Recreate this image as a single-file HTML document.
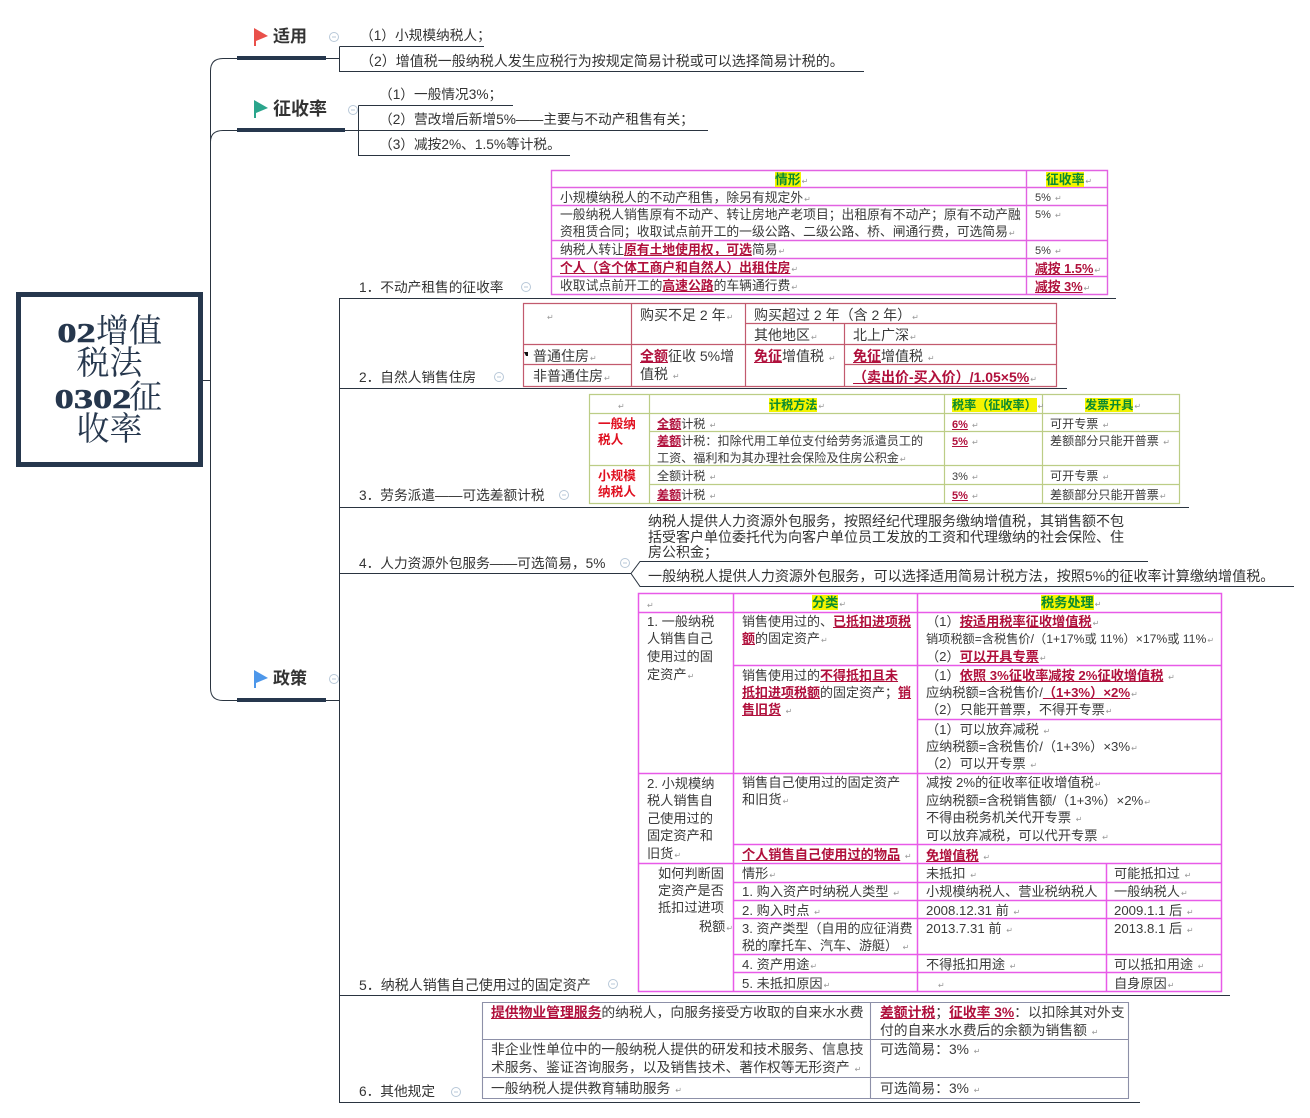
<!DOCTYPE html>
<html lang="zh"><head><meta charset="utf-8"><title>02增值税法 0302征收率</title>
<style>
html,body{margin:0;padding:0;background:#fff}
body{position:relative;width:1310px;height:1118px;overflow:hidden;font-family:"Liberation Sans","Noto Sans CJK SC",sans-serif;color:#3a3a3a}
svg{position:absolute;left:0;top:0}
.t{position:absolute;white-space:nowrap;line-height:18px;height:18px;font-size:13.2px;margin-top:1px}
.a{font-size:12.8px}.c{font-size:12.1px}.b{font-size:14px}.l{font-size:13.7px;color:#333}.m{font-size:14px;color:#333}.f{font-size:13.8px}.g{font-size:13px}
.h{font-size:17px;font-weight:bold;color:#333}
.r{color:#b0103c;font-weight:bold;text-decoration:underline}
.e{color:#e01020;font-weight:bold}
.y{background:#f4f400;color:#0a8a30;font-weight:bold}
i{font-style:normal;font-size:8px;color:#999;font-family:"DejaVu Sans",sans-serif;margin-left:1px}
.root{position:absolute;left:16px;top:292px;width:177px;height:165px;border:5px solid #26374d;background:#fff}
.rt{position:absolute;left:0;width:177px;text-align:center;font-family:"Liberation Serif","Noto Serif CJK SC",serif;font-size:33px;line-height:34px;color:#26374d;white-space:nowrap}
.d{display:inline-block;font-weight:bold;font-size:27px;transform:scaleX(1.42);margin:0 6px;-webkit-text-stroke:.5px #26374d}
.d2{margin:0 9px}
</style></head><body>
<svg width="1310" height="1118" viewBox="0 0 1310 1118" fill="none">
<g stroke="#2a3440" stroke-width="1">
<path d="M203 380.5H210.5M237 58.5H223Q210.5 58.5 210.5 71V688Q210.5 700.5 223 700.5H237M210.5 142Q210.5 130.5 223 130.5H237"/>
<path d="M325 58.5H339.5M339.5 46.5H484M339.5 46.5V71.5H864"/>
<path d="M345 130.5H708M358.5 105.5H513M358.5 105.5V155.5H570"/>
<path d="M326 700.5H339.5M339.5 298.5V1102.5M339 298.5H1116M339 388.5H1067M339 507.5H1189M339 573.5H631L640 561.5H1148M631 573.5L640 586.5H1294M339 995.5H1230M339 1102.5H1140"/>
</g>
<g fill="#26374d"><rect x="237" y="56" width="89" height="4"/><rect x="237" y="128" width="108" height="4"/><rect x="237" y="698" width="89" height="4"/></g>
<path d="M254 28L268 36L256 41V46H254Z" fill="#e9504a"/>
<path d="M254 100L268 108L256 113V118H254Z" fill="#2aa58c"/>
<path d="M254 670L268 678L256 683V688H254Z" fill="#4d97ea"/>
<g stroke="#b8c8d8" stroke-width="1" fill="#fff">
<circle cx="334" cy="37" r="4.5"/><circle cx="353" cy="110" r="4.5"/><circle cx="526" cy="287" r="4.5"/><circle cx="499" cy="377" r="4.5"/><circle cx="564" cy="495" r="4.5"/><circle cx="625" cy="563" r="4.5"/><circle cx="334" cy="679" r="4.5"/><circle cx="613" cy="984" r="4.5"/><circle cx="456" cy="1092" r="4.5"/>
<path d="M332 37h4M351 110h4M524 287h4M497 377h4M562 495h4M623 563h4M332 679h4M611 984h4M454 1092h4"/>
</g>
<g stroke="#e262e2" stroke-width="1.4">
<path d="M551.5 170.5H1107.5V294.5H551.5ZM551.5 187.5H1107.5M551.5 205.5H1107.5M551.5 240.5H1107.5M551.5 258.5H1107.5M551.5 276.5H1107.5M1026.5 170.5V294.5"/>
</g>
<g stroke="#c25a6e" stroke-width="1.2">
<path d="M523.5 303.5H1056.5V386.5H523.5ZM745 323.5H1056.5M745 323.5M523.5 344.5H1056.5M523.5 364.5H631M844 364.5H1056.5M631.5 303.5V386.5M745.5 303.5V386.5M844.5 323.5V386.5"/>
</g>
<g stroke="#bccd86" stroke-width="1.2">
<path d="M589.5 394.5H1179.5V503.5H589.5ZM589.5 413.5H1179.5M649 431.5H1179.5M589.5 465.5H1179.5M649 484.5H1179.5M649.5 394.5V503.5M944.5 394.5V503.5M1042.5 394.5V503.5"/>
</g>
<g stroke="#e85ae8" stroke-width="1.5">
<path d="M638.5 593.5H1221.5V991.5H638.5ZM638.5 612.5H1221.5M733 665.5H1221.5M917 719.5H1221.5M638.5 773.5H1221.5M733 844.5H1221.5M638.5 863.5H1221.5M733 882.5H1221.5M733 900.5H1221.5M733 918.5H1221.5M733 954.5H1221.5M733 972.5H1221.5M733.5 593.5V991.5M917.5 593.5V991.5M1106.5 863.5V991.5"/>
</g>
<g stroke="#8d90a8" stroke-width="1.1">
<path d="M482.5 1002.5H1128.5V1098.5H482.5ZM482.5 1039.5H1128.5M482.5 1077.5H1128.5M870.5 1002.5V1098.5"/>
</g>
<path d="M524 352h4v4h-2z" fill="#111"/>
</svg>

<div class="root">
<div class="rt" style="top:18px"><span class="d">02</span>增值</div>
<div class="rt" style="top:50px">税法</div>
<div class="rt" style="top:84px"><span class="d d2">0302</span>征</div>
<div class="rt" style="top:116px">收率</div>
</div>

<div class="t h" style="left:273px;top:27px">适用</div>
<div class="t h" style="left:273px;top:99px;font-size:18px">征收率</div>
<div class="t h" style="left:273px;top:669px">政策</div>

<div class="t l" style="left:360px;top:26px">（1）小规模纳税人；</div>
<div class="t m" style="left:360px;top:51px">（2）增值税一般纳税人发生应税行为按规定简易计税或可以选择简易计税的。</div>
<div class="t l" style="left:379px;top:85px">（1）一般情况3%；</div>
<div class="t l" style="left:379px;top:110px">（2）营改增后新增5%——主要与不动产租售有关；</div>
<div class="t l" style="left:379px;top:135px">（3）减按2%、1.5%等计税。</div>

<div class="t l" style="left:359px;top:278px">1．不动产租售的征收率</div>
<div class="t l" style="left:359px;top:368px">2．自然人销售住房</div>
<div class="t l" style="left:359px;top:486px">3．劳务派遣——可选差额计税</div>
<div class="t l" style="left:359px;top:554px">4．人力资源外包服务——可选简易，5%</div>
<div class="t m" style="left:359px;top:975px">5．纳税人销售自己使用过的固定资产</div>
<div class="t l" style="left:359px;top:1082px">6．其他规定</div>

<div class="t m" style="left:648px;top:511px">纳税人提供人力资源外包服务，按照经纪代理服务缴纳增值税，其销售额不包</div>
<div class="t m" style="left:648px;top:527px">括受客户单位委托代为向客户单位员工发放的工资和代理缴纳的社会保险、住</div>
<div class="t m" style="left:648px;top:542px">房公积金；</div>
<div class="t m" style="left:648px;top:566px;font-size:14.1px">一般纳税人提供人力资源外包服务，可以选择适用简易计税方法，按照5%的征收率计算缴纳增值税。</div>

<!-- table 1 -->
<div class="t a" style="left:775px;top:170px"><span class="y">情形</span><i>↵</i></div>
<div class="t a" style="left:1046px;top:170px"><span class="y">征收率</span><i>↵</i></div>
<div class="t a" style="left:560px;top:188px">小规模纳税人的不动产租售，除另有规定外<i>↵</i></div>
<div class="t a" style="left:1035px;top:188px;font-size:11px">5% <i>↵</i></div>
<div class="t a" style="left:560px;top:205px">一般纳税人销售原有不动产、转让房地产老项目；出租原有不动产；原有不动产融</div>
<div class="t a" style="left:1035px;top:205px;font-size:11px">5% <i>↵</i></div>
<div class="t a" style="left:560px;top:222px">资租赁合同；收取试点前开工的一级公路、二级公路、桥、闸通行费，可选简易<i>↵</i></div>
<div class="t a" style="left:560px;top:240px">纳税人转让<span class="r">原有土地使用权，可选</span>简易<i>↵</i></div>
<div class="t a" style="left:1035px;top:241px;font-size:11px">5% <i>↵</i></div>
<div class="t a" style="left:560px;top:258px"><span class="r">个人（含个体工商户和自然人）出租住房</span><i>↵</i></div>
<div class="t a" style="left:1035px;top:259px"><span class="r">减按 1.5%</span><i>↵</i></div>
<div class="t a" style="left:560px;top:276px">收取试点前开工的<span class="r">高速公路</span>的车辆通行费<i>↵</i></div>
<div class="t a" style="left:1035px;top:277px"><span class="r">减按 3%</span><i>↵</i></div>

<!-- table 2 -->
<div class="t b" style="left:546px;top:305px"><i>↵</i></div>
<div class="t b" style="left:640px;top:305px">购买不足 2 年<i>↵</i></div>
<div class="t b" style="left:754px;top:305px">购买超过 2 年（含 2 年）<i>↵</i></div>
<div class="t b" style="left:754px;top:325px">其他地区<i>↵</i></div>
<div class="t b" style="left:853px;top:325px">北上广深<i>↵</i></div>
<div class="t b" style="left:533px;top:346px">普通住房<i>↵</i></div>
<div class="t b" style="left:533px;top:366px">非普通住房<i>↵</i></div>
<div class="t b" style="left:640px;top:346px"><span class="r">全额</span>征收 5%增</div>
<div class="t b" style="left:640px;top:364px">值税 <i>↵</i></div>
<div class="t b" style="left:754px;top:346px"><span class="r">免征</span>增值税 <i>↵</i></div>
<div class="t b" style="left:853px;top:346px"><span class="r">免征</span>增值税 <i>↵</i></div>
<div class="t b" style="left:853px;top:367px"><span class="r">（卖出价-买入价）/1.05×5%</span><i>↵</i></div>

<!-- table 3 -->
<div class="t c" style="left:617px;top:395px"><i>↵</i></div>
<div class="t c" style="left:769px;top:395px"><span class="y">计税方法</span><i>↵</i></div>
<div class="t c" style="left:952px;top:395px"><span class="y">税率（征收率）</span><i>↵</i></div>
<div class="t c" style="left:1085px;top:395px"><span class="y">发票开具</span><i>↵</i></div>
<div class="t c e" style="left:598px;top:414px;font-size:12.6px">一般纳</div>
<div class="t c e" style="left:598px;top:430px;font-size:12.6px">税人</div>
<div class="t c e" style="left:598px;top:466px;font-size:12.6px">小规模</div>
<div class="t c e" style="left:598px;top:482px;font-size:12.6px">纳税人</div>
<div class="t c" style="left:657px;top:414px"><span class="r">全额</span>计税 <i>↵</i></div>
<div class="t c" style="left:952px;top:415px;font-size:11px"><span class="r">6%</span> <i>↵</i></div>
<div class="t c" style="left:1050px;top:414px">可开专票 <i>↵</i></div>
<div class="t c" style="left:657px;top:431px"><span class="r">差额</span>计税：扣除代用工单位支付给劳务派遣员工的</div>
<div class="t c" style="left:657px;top:448px">工资、福利和为其办理社会保险及住房公积金<i>↵</i></div>
<div class="t c" style="left:952px;top:432px;font-size:11px"><span class="r">5%</span> <i>↵</i></div>
<div class="t c" style="left:1050px;top:431px">差额部分只能开普票 <i>↵</i></div>
<div class="t c" style="left:657px;top:466px">全额计税 <i>↵</i></div>
<div class="t c" style="left:952px;top:467px;font-size:11px">3% <i>↵</i></div>
<div class="t c" style="left:1050px;top:466px">可开专票 <i>↵</i></div>
<div class="t c" style="left:657px;top:485px"><span class="r">差额</span>计税 <i>↵</i></div>
<div class="t c" style="left:952px;top:486px;font-size:11px"><span class="r">5%</span> <i>↵</i></div>
<div class="t c" style="left:1050px;top:485px">差额部分只能开普票<i>↵</i></div>

<!-- table 5 -->
<div class="t" style="left:646px;top:594px"><i>↵</i></div>
<div class="t" style="left:812px;top:593px"><span class="y">分类</span><i>↵</i></div>
<div class="t" style="left:1041px;top:593px"><span class="y">税务处理</span><i>↵</i></div>
<div class="t" style="left:647px;top:612px">1. 一般纳税</div>
<div class="t" style="left:647px;top:629px">人销售自己</div>
<div class="t" style="left:647px;top:647px">使用过的固</div>
<div class="t" style="left:647px;top:665px">定资产<i>↵</i></div>
<div class="t g" style="left:742px;top:612px">销售使用过的、<span class="r">已抵扣进项税</span></div>
<div class="t g" style="left:742px;top:629px"><span class="r">额</span>的固定资产<i>↵</i></div>
<div class="t" style="left:926px;top:612px">（1）<span class="r">按适用税率征收增值税</span><i>↵</i></div>
<div class="t" style="left:926px;top:629px;font-size:12.2px">销项税额=含税售价/（1+17%或 11%）×17%或 11%<i>↵</i></div>
<div class="t" style="left:926px;top:647px">（2）<span class="r">可以开具专票</span><i>↵</i></div>
<div class="t g" style="left:742px;top:666px">销售使用过的<span class="r">不得抵扣且未</span></div>
<div class="t g" style="left:742px;top:683px"><span class="r">抵扣进项税额</span>的固定资产；<span class="r">销</span></div>
<div class="t g" style="left:742px;top:700px"><span class="r">售旧货</span> <i>↵</i></div>
<div class="t" style="left:926px;top:666px">（1）<span class="r">依照 3%征收率减按 2%征收增值税</span> <i>↵</i></div>
<div class="t" style="left:926px;top:683px">应纳税额=含税售价/<span class="r">（1+3%）×2%</span><i>↵</i></div>
<div class="t" style="left:926px;top:700px">（2）只能开普票，不得开专票<i>↵</i></div>
<div class="t" style="left:926px;top:720px">（1）可以放弃减税 <i>↵</i></div>
<div class="t" style="left:926px;top:737px">应纳税额=含税售价/（1+3%）×3%<i>↵</i></div>
<div class="t" style="left:926px;top:754px">（2）可以开专票 <i>↵</i></div>
<div class="t" style="left:647px;top:774px">2. 小规模纳</div>
<div class="t" style="left:647px;top:791px">税人销售自</div>
<div class="t" style="left:647px;top:809px">己使用过的</div>
<div class="t" style="left:647px;top:826px">固定资产和</div>
<div class="t" style="left:647px;top:844px">旧货<i>↵</i></div>
<div class="t" style="left:742px;top:773px">销售自己使用过的固定资产</div>
<div class="t" style="left:742px;top:790px">和旧货<i>↵</i></div>
<div class="t" style="left:742px;top:845px"><span class="r">个人销售自己使用过的物品</span> <i>↵</i></div>
<div class="t" style="left:926px;top:773px">减按 2%的征收率征收增值税<i>↵</i></div>
<div class="t" style="left:926px;top:791px">应纳税额=含税销售额/（1+3%）×2%<i>↵</i></div>
<div class="t" style="left:926px;top:808px">不得由税务机关代开专票 <i>↵</i></div>
<div class="t" style="left:926px;top:826px">可以放弃减税，可以代开专票 <i>↵</i></div>
<div class="t" style="left:926px;top:846px"><span class="r">免增值税</span> <i>↵</i></div>
<div class="t" style="left:658px;top:864px">如何判断固</div>
<div class="t" style="left:658px;top:881px">定资产是否</div>
<div class="t" style="left:658px;top:898px">抵扣过进项</div>
<div class="t" style="left:699px;top:917px">税额<i>↵</i></div>
<div class="t" style="left:742px;top:864px">情形<i>↵</i></div>
<div class="t" style="left:926px;top:864px">未抵扣 <i>↵</i></div>
<div class="t" style="left:1114px;top:864px">可能抵扣过 <i>↵</i></div>
<div class="t" style="left:742px;top:882px">1. 购入资产时纳税人类型 <i>↵</i></div>
<div class="t" style="left:926px;top:882px">小规模纳税人、营业税纳税人</div>
<div class="t" style="left:1114px;top:882px">一般纳税人<i>↵</i></div>
<div class="t" style="left:742px;top:901px">2. 购入时点 <i>↵</i></div>
<div class="t" style="left:926px;top:901px">2008.12.31 前 <i>↵</i></div>
<div class="t" style="left:1114px;top:901px">2009.1.1 后 <i>↵</i></div>
<div class="t g" style="left:742px;top:919px">3. 资产类型（自用的应征消费</div>
<div class="t g" style="left:742px;top:936px">税的摩托车、汽车、游艇） <i>↵</i></div>
<div class="t" style="left:926px;top:919px">2013.7.31 前 <i>↵</i></div>
<div class="t" style="left:1114px;top:919px">2013.8.1 后 <i>↵</i></div>
<div class="t" style="left:742px;top:955px">4. 资产用途<i>↵</i></div>
<div class="t" style="left:926px;top:955px">不得抵扣用途 <i>↵</i></div>
<div class="t" style="left:1114px;top:955px">可以抵扣用途 <i>↵</i></div>
<div class="t" style="left:742px;top:974px">5. 未抵扣原因<i>↵</i></div>
<div class="t" style="left:937px;top:974px"><i>↵</i></div>
<div class="t" style="left:1114px;top:974px">自身原因<i>↵</i></div>

<!-- table 6 -->
<div class="t f" style="left:491px;top:1003px"><span class="r">提供物业管理服务</span>的纳税人，向服务接受方收取的自来水水费</div>
<div class="t f" style="left:880px;top:1003px"><span class="r">差额计税</span>；<span class="r">征收率 3%</span>：以扣除其对外支</div>
<div class="t f" style="left:880px;top:1021px">付的自来水水费后的余额为销售额 <i>↵</i></div>
<div class="t f" style="left:491px;top:1040px">非企业性单位中的一般纳税人提供的研发和技术服务、信息技</div>
<div class="t f" style="left:491px;top:1058px">术服务、鉴证咨询服务，以及销售技术、著作权等无形资产 <i>↵</i></div>
<div class="t f" style="left:880px;top:1040px">可选简易：3% <i>↵</i></div>
<div class="t f" style="left:491px;top:1079px">一般纳税人提供教育辅助服务 <i>↵</i></div>
<div class="t f" style="left:880px;top:1079px">可选简易：3% <i>↵</i></div>
</body></html>
